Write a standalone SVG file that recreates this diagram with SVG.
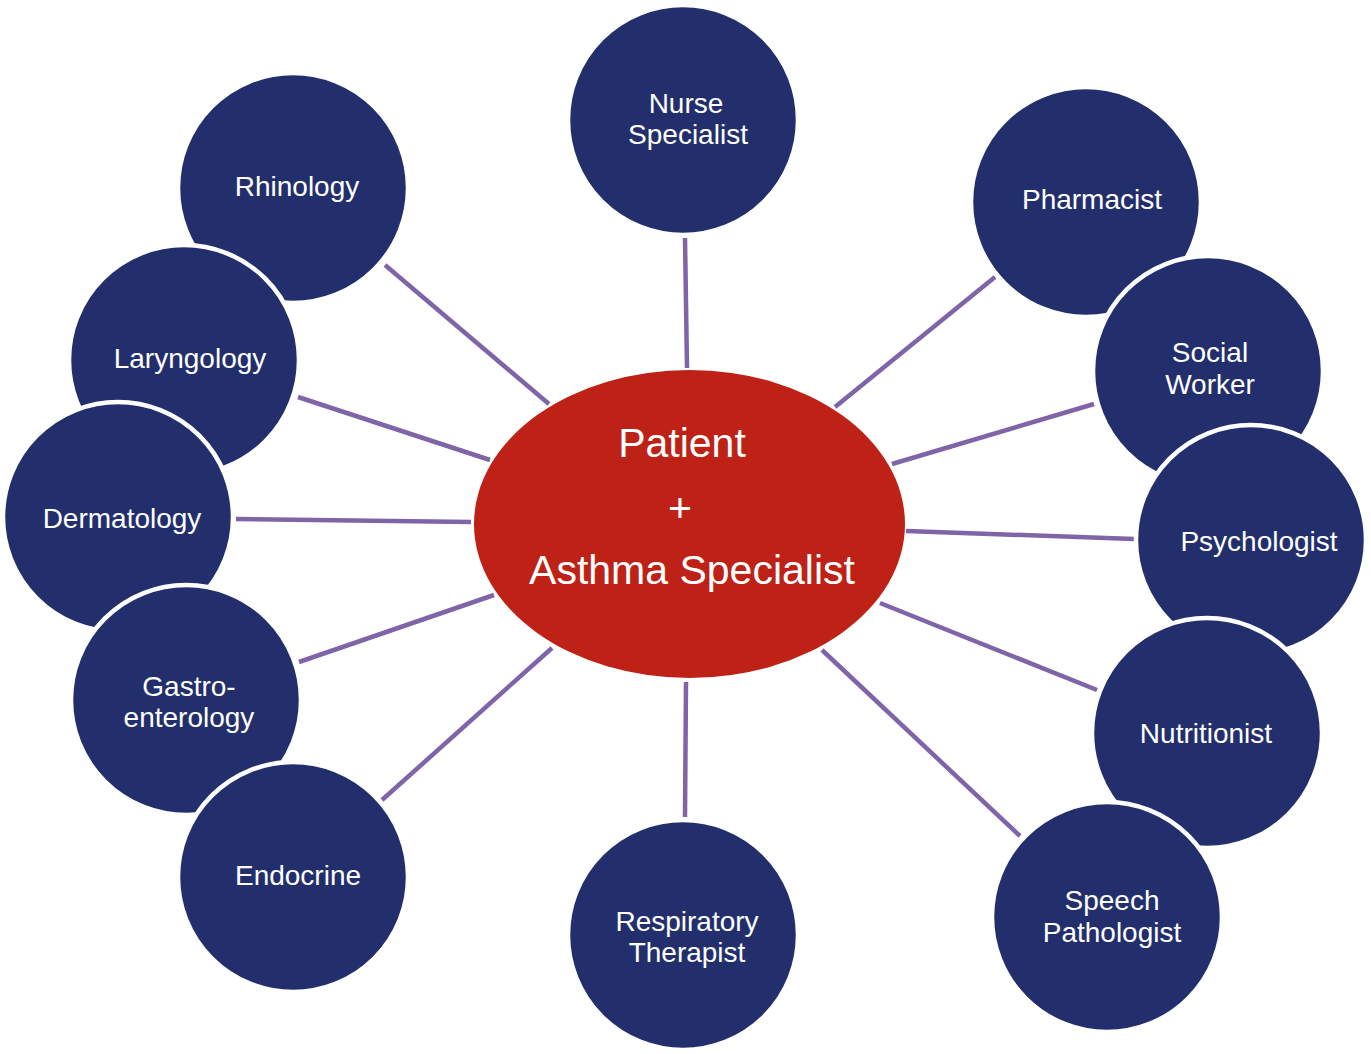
<svg xmlns="http://www.w3.org/2000/svg" width="1371" height="1054" viewBox="0 0 1371 1054">
<style>
.n{fill:#232F6D;stroke:#FFFFFF;stroke-width:4.5}
.t{fill:#FFFFFF;font-family:"Liberation Sans",Arial,sans-serif;font-size:28px;text-anchor:middle}
.c{stroke:#8064A8;stroke-width:4.5;fill:none}
.h{fill:#FFFFFF;font-family:"Liberation Sans",Arial,sans-serif;font-size:41px;text-anchor:middle}
</style>
<rect width="1371" height="1054" fill="#FFFFFF"/>
<g id="connectors">
<line class="c" x1="685" y1="238" x2="687" y2="368"/>
<line class="c" x1="385" y1="265" x2="549" y2="404"/>
<line class="c" x1="298" y1="397" x2="490" y2="460"/>
<line class="c" x1="236" y1="519" x2="471" y2="522"/>
<line class="c" x1="299" y1="662" x2="494" y2="595"/>
<line class="c" x1="382" y1="800" x2="552" y2="648"/>
<line class="c" x1="686" y1="682" x2="685" y2="817"/>
<line class="c" x1="822" y1="650" x2="1020" y2="836"/>
<line class="c" x1="880" y1="603" x2="1097" y2="690"/>
<line class="c" x1="906" y1="531" x2="1134" y2="539"/>
<line class="c" x1="892" y1="464" x2="1094" y2="404"/>
<line class="c" x1="835" y1="407" x2="995" y2="277"/>
</g>
<g id="center">
<ellipse cx="689.5" cy="524" rx="215.5" ry="154" fill="#BE2217"/>
<text class="h" x="682" y="457">Patient</text>
<text class="h" x="680" y="522">+</text>
<text class="h" x="692" y="584">Asthma Specialist</text>
</g>
<g id="nurse"><circle class="n" cx="683" cy="120" r="115"/><text class="t" x="686" y="113">Nurse</text><text class="t" x="688" y="144">Specialist</text></g>
<g id="rhinology"><circle class="n" cx="293" cy="188" r="115"/><text class="t" x="297" y="196">Rhinology</text></g>
<g id="laryngology"><circle class="n" cx="184" cy="360" r="115"/><text class="t" x="190" y="368">Laryngology</text></g>
<g id="dermatology"><circle class="n" cx="118" cy="517" r="115"/><text class="t" x="122" y="528">Dermatology</text></g>
<g id="gastroenterology"><circle class="n" cx="186" cy="700" r="115"/><text class="t" x="189" y="696">Gastro-</text><text class="t" x="189" y="727">enterology</text></g>
<g id="endocrine"><circle class="n" cx="293" cy="877" r="115"/><text class="t" x="298" y="885">Endocrine</text></g>
<g id="respiratory"><circle class="n" cx="683" cy="935" r="115"/><text class="t" x="687" y="931">Respiratory</text><text class="t" x="687" y="962">Therapist</text></g>
<g id="pharmacist"><circle class="n" cx="1086" cy="202" r="115"/><text class="t" x="1092" y="209">Pharmacist</text></g>
<g id="social"><circle class="n" cx="1208" cy="371" r="115"/><text class="t" x="1210" y="362">Social</text><text class="t" x="1210" y="394">Worker</text></g>
<g id="psychologist"><circle class="n" cx="1251" cy="540" r="115"/><text class="t" x="1259" y="551">Psychologist</text></g>
<g id="nutritionist"><circle class="n" cx="1207" cy="733" r="115"/><text class="t" x="1206" y="743">Nutritionist</text></g>
<g id="speech"><circle class="n" cx="1107" cy="917" r="115"/><text class="t" x="1112" y="910">Speech</text><text class="t" x="1112" y="942">Pathologist</text></g>
</svg>
